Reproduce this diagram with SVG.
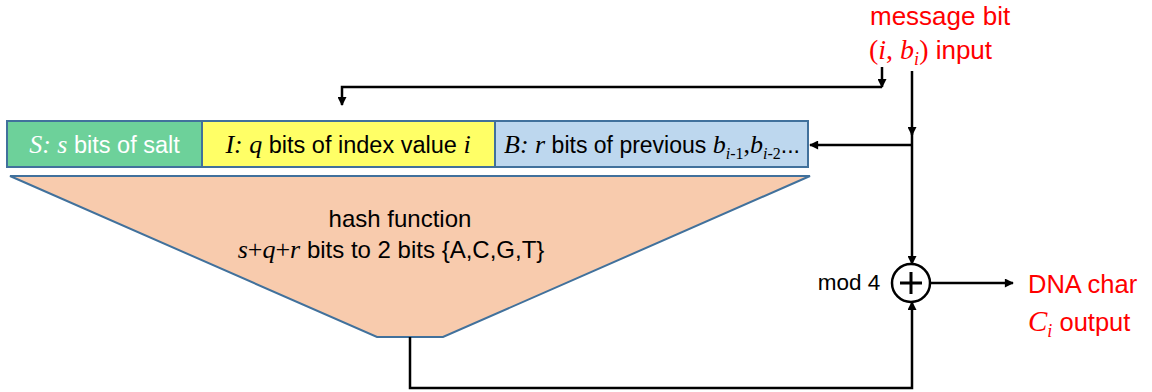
<svg xmlns="http://www.w3.org/2000/svg" width="1152" height="392" viewBox="0 0 1152 392">
<defs>
<marker id="ah" viewBox="0 0 10 10" refX="9" refY="5" markerWidth="10" markerHeight="9" markerUnits="userSpaceOnUse" orient="auto">
<path d="M0,0 L10,5 L0,10 z" fill="#000"/>
</marker>
</defs>
<style>
.box{stroke:#41719C;stroke-width:2}
.sans{font-family:"Liberation Sans",Arial,sans-serif}
.m{font-family:"Liberation Serif","Times New Roman",serif;font-style:italic}
.mu{font-family:"Liberation Serif","Times New Roman",serif}
.con{fill:none;stroke:#000;stroke-width:2.5}
.red{fill:#FF0000}
</style>
<rect width="1152" height="392" fill="#fff"/>
<g id="salt">
<rect class="box" x="7" y="121" width="195" height="46" fill="#6DD19A"/>
<text class="sans" x="104.5" y="153" font-size="23.5" fill="#fff" text-anchor="middle"><tspan class="m" font-size="26">S: s</tspan> bits of salt</text>
</g>
<g id="index">
<rect class="box" x="202" y="121" width="293" height="46" fill="#FFFF66"/>
<text class="sans" x="348" y="153" font-size="23.5" fill="#000" text-anchor="middle"><tspan class="m" font-size="26">I: q</tspan> bits of index value <tspan class="m" font-size="26">i</tspan></text>
</g>
<g id="previous">
<rect class="box" x="495" y="121" width="313" height="46" fill="#BDD7EE"/>
<text class="sans" x="652" y="153" font-size="23" fill="#000" text-anchor="middle"><tspan class="m" font-size="26">B: r</tspan> bits of previous <tspan class="m" font-size="26">b</tspan><tspan class="m" font-size="16" dy="6">i</tspan><tspan class="mu" font-size="16">-1</tspan><tspan class="mu" font-size="26" dy="-6">,</tspan><tspan class="m" font-size="26">b</tspan><tspan class="m" font-size="16" dy="6">i</tspan><tspan class="mu" font-size="16">-2</tspan><tspan dy="-6">...</tspan></text>
</g>
<g id="hash">
<polygon class="box" points="10,176 810,176 443,337 377,337" fill="#F8CBAD"/>
<text class="sans" x="400" y="227" font-size="24" fill="#000" text-anchor="middle">hash function</text>
<text class="sans" x="391" y="258" font-size="24" fill="#000" text-anchor="middle"><tspan class="m" font-size="26">s</tspan><tspan class="mu" font-size="26">+</tspan><tspan class="m" font-size="26">q</tspan><tspan class="mu" font-size="26">+</tspan><tspan class="m" font-size="26">r</tspan> bits to 2 bits {A,C,G,T}</text>
</g>
<g id="mod4">
<circle cx="911" cy="283" r="19" fill="#fff" stroke="#000" stroke-width="2.5"/>
<path d="M900,283 H922 M911,272 V294" stroke="#000" stroke-width="3"/>
<text class="sans" x="849" y="290" font-size="22.5" fill="#000" text-anchor="middle">mod 4</text>
</g>
<g id="input">
<text class="sans red" x="870" y="25" font-size="26">message bit</text>
<text class="sans red" x="869" y="59" font-size="26"><tspan class="mu" font-size="28">(</tspan><tspan class="m" font-size="28">i</tspan><tspan class="mu" font-size="28">, </tspan><tspan class="m" font-size="28">b</tspan><tspan class="m" font-size="18" dy="6">i</tspan><tspan class="mu" font-size="28" dy="-6">)</tspan> input</text>
</g>
<g id="output">
<text class="sans red" x="1028" y="293" font-size="25.5">DNA char</text>
<text class="sans red" x="1028" y="331" font-size="25.5"><tspan class="m" font-size="29">C</tspan><tspan class="m" font-size="18" dy="6">i</tspan><tspan dy="-6"> output</tspan></text>
</g>
<g id="connectors">
<path class="con" d="M882,67 V87" marker-end="url(#ah)"/>
<path class="con" d="M882,87 H342 V105" marker-end="url(#ah)"/>
<path class="con" d="M912,71 V135" marker-end="url(#ah)"/>
<path class="con" d="M912,130 V264" marker-end="url(#ah)"/>
<path class="con" d="M912,145 H810" marker-end="url(#ah)"/>
<path class="con" d="M410,337 V388 H912 V302" marker-end="url(#ah)"/>
<path class="con" d="M930,283 H1013" marker-end="url(#ah)"/>
</g>
</svg>
